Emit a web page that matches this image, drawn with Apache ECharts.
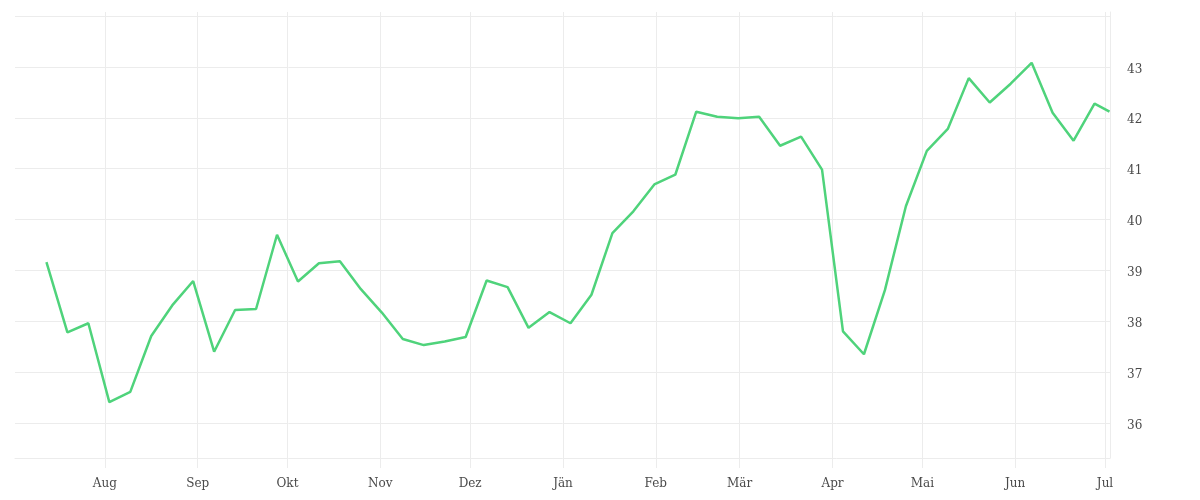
<!DOCTYPE html>
<html>
<head>
<meta charset="utf-8">
<script src="https://cdn.jsdelivr.net/npm/echarts@6/dist/echarts.min.js"></script>
<style>
  html, body { margin: 0; padding: 0; background: #fff; }
  #chart { width: 1200px; height: 500px; }
</style>
</head>
<body>
<div id="chart"></div>
<script>
// weekly readings, Jul 2022 - Jul 2023
const dates = [
  '2022-07-12', '2022-07-19', '2022-07-26', '2022-08-02', '2022-08-09', '2022-08-16',
  '2022-08-23', '2022-08-30', '2022-09-06', '2022-09-13', '2022-09-20', '2022-09-27',
  '2022-10-04', '2022-10-11', '2022-10-18', '2022-10-25', '2022-11-01', '2022-11-08',
  '2022-11-15', '2022-11-22', '2022-11-29', '2022-12-06', '2022-12-13', '2022-12-20',
  '2022-12-27', '2023-01-03', '2023-01-10', '2023-01-17', '2023-01-24', '2023-01-31',
  '2023-02-07', '2023-02-14', '2023-02-21', '2023-02-28', '2023-03-07', '2023-03-14',
  '2023-03-21', '2023-03-28', '2023-04-04', '2023-04-11', '2023-04-18', '2023-04-25',
  '2023-05-02', '2023-05-09', '2023-05-16', '2023-05-23', '2023-05-30', '2023-06-06',
  '2023-06-13', '2023-06-20', '2023-06-27', '2023-07-02'
];
const values = [
  39.16, 37.78, 37.96, 36.41, 36.61, 37.71,
  38.31, 38.79, 37.40, 38.22, 38.24, 39.70,
  38.78, 39.14, 39.18, 38.63, 38.17, 37.65,
  37.53, 37.60, 37.69, 38.80, 38.67, 37.87,
  38.18, 37.96, 38.52, 39.73, 40.16, 40.69,
  40.88, 42.12, 42.02, 41.99, 42.02, 41.45,
  41.63, 40.98, 37.80, 37.35, 38.61, 40.26,
  41.35, 41.78, 42.78, 42.30, 42.67, 43.08,
  42.10, 41.55, 42.28, 42.12
];
const monthNames = ['Jän', 'Feb', 'Mär', 'Apr', 'Mai', 'Jun', 'Jul', 'Aug', 'Sep', 'Okt', 'Nov', 'Dez'];

const chart = echarts.init(document.getElementById('chart'));
const gridColor = '#ececec';
const font = 'DejaVu Serif';

chart.setOption({
  animation: false,
  grid: { left: 15, right: 90, top: 12, bottom: 42 },
  xAxis: {
    type: 'time',
    min: '2022-07-02T00:00:00',
    max: '2023-07-02T16:00:00',
    splitNumber: 12,
    minInterval: 28 * 24 * 3600 * 1000,
    maxInterval: 31 * 24 * 3600 * 1000,
    axisLine: { show: true, lineStyle: { color: gridColor } },
    axisTick: { show: true, length: 10, lineStyle: { color: gridColor } },
    splitLine: { show: true, showMinLine: false, lineStyle: { color: gridColor } },
    axisLabel: {
      margin: 20,
      color: '#4a4a4a',
      fontFamily: font,
      fontSize: 12,
      hideOverlap: false,
      formatter: v => monthNames[new Date(v).getMonth()]
    }
  },
  yAxis: {
    type: 'value',
    position: 'right',
    min: 35.31,
    max: 44.08,
    splitNumber: 9,
    axisLine: { show: true, lineStyle: { color: gridColor } },
    axisTick: { show: false },
    splitLine: { show: true, showMinLine: false, showMaxLine: false, lineStyle: { color: gridColor } },
    axisLabel: {
      margin: 17,
      color: '#4a4a4a',
      fontFamily: font,
      fontSize: 12,
      showMinLabel: false,
      showMaxLabel: false,
      formatter: v => (v % 1 === 0 && v < 44) ? '{n|' + v + '}' : '',
      rich: {
        n: { fontFamily: font, fontSize: 12, color: '#4a4a4a', padding: [5, 0, 0, 0] }
      }
    }
  },
  series: [{
    type: 'line',
    data: dates.map((d, i) => [d + 'T12:00:00', values[i]]),
    showSymbol: false,
    lineStyle: { color: '#4fd37b', width: 2.5 },
    itemStyle: { color: '#4fd37b' }
  }]
});
</script>
</body>
</html>
